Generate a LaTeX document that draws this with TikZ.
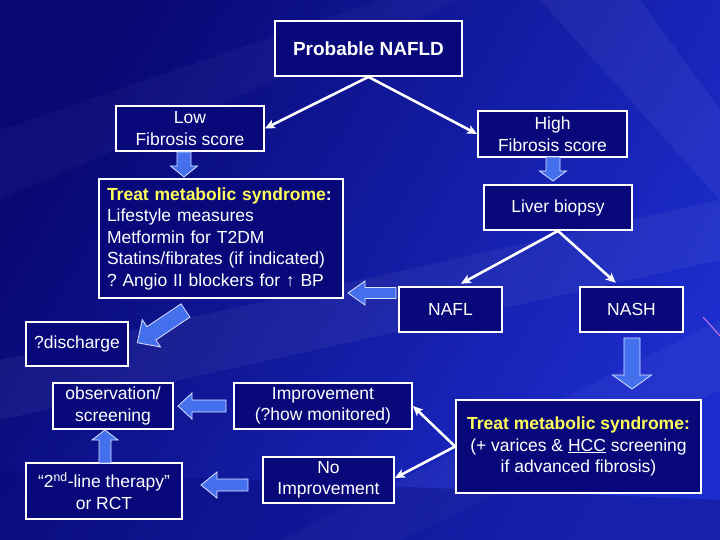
\documentclass[tikz,border=0pt]{standalone}
\usepackage{fontspec}
\setmainfont{Liberation Sans}
\usetikzlibrary{arrows.meta,calc}
\definecolor{bgA}{RGB}{8,8,115}
\definecolor{bgB}{RGB}{28,45,205}
\definecolor{boxfill}{RGB}{8,8,122}
\definecolor{barrow}{RGB}{68,112,238}
\definecolor{ylw}{RGB}{255,255,90}
\definecolor{streak}{RGB}{200,120,230}
\newcommand{\fatarrow}[7]{%
  \begin{scope}[shift={(#1,#2)},rotate=#3]
    \filldraw[fatstyle] (0,-#5) -- ({#4-#7},-#5) -- ({#4-#7},-#6) -- (#4,0)
      -- ({#4-#7},#6) -- ({#4-#7},#5) -- (0,#5) -- cycle;
  \end{scope}}
\tikzset{
  fatstyle/.style={fill=barrow, draw=white!80!barrow, line width=0.8pt, line join=miter},
  flowbox/.style={draw=white, line width=1.8pt, fill=boxfill, text=white, inner sep=0pt,
    align=center, font=\fontsize{17.5}{21.5}\selectfont},
  warrow/.style={draw=white, line width=2.6pt, -{Stealth[length=10pt,width=9pt,inset=2.5pt]}},
}
\frenchspacing
\begin{document}
\begin{tikzpicture}[x=1pt,y=-1pt]
  % background
  \useasboundingbox (0,0) rectangle (720,540);
  \shade[left color=bgA, right color=bgB, shading angle=60] (0,0) rectangle (720,540);
  \fill[white, opacity=0.05] (0,360) -- (720,200) -- (720,260) -- (0,420) -- cycle;
  \fill[white, opacity=0.04] (280,540) -- (720,320) -- (720,390) -- (400,540) -- cycle;
  \fill[white, opacity=0.05] (540,0) -- (640,0) -- (720,110) -- (720,200) -- cycle;
  \fill[white, opacity=0.03] (0,130) -- (380,0) -- (460,0) -- (0,200) -- cycle;
  \fill[bgA, opacity=0.35] (0,470) -- (720,500) -- (720,540) -- (0,540) -- cycle;
  \draw[streak, line width=1pt] (703,317) -- (722,338);

  % boxes
  \node[flowbox, minimum width=187pt, minimum height=55pt, font=\fontsize{19}{22}\selectfont\bfseries]
    (nafld) at (368.5,48.5) {Probable NAFLD};
  \node[flowbox, minimum width=148pt, minimum height=45pt] (low) at (190,128.5) {Low\\Fibrosis score};
  \node[flowbox, minimum width=149pt, minimum height=46pt] (high) at (552.5,134) {High\\Fibrosis score};
  \node[flowbox, minimum width=244pt, minimum height=119pt, text width=228pt, align=left]
    (treat) at (221,238.5) {\textcolor{ylw}{\bfseries Treat metabolic syndrome}\textbf{:}\\
      Lifestyle measures\\Metformin for T2DM\\Statins/fibrates (if indicated)\\? Angio II blockers for ↑ BP};
  \node[flowbox, minimum width=148pt, minimum height=45pt] (biopsy) at (558,207.5) {Liver biopsy};
  \node[flowbox, minimum width=103pt, minimum height=45pt] (nafl) at (450.5,309.5) {NAFL};
  \node[flowbox, minimum width=103pt, minimum height=45pt] (nash) at (631.5,309.5) {NASH};
  \node[flowbox, minimum width=102pt, minimum height=44pt] (disch) at (77,344) {?discharge};
  \node[flowbox, minimum width=120pt, minimum height=46pt] (obs) at (113,406) {observation/\\screening};
  \node[flowbox, minimum width=178pt, minimum height=46pt] (impr) at (323,406) {Improvement\\(?how monitored)};
  \node[flowbox, minimum width=156pt, minimum height=56pt] (second) at (104,491)
    {“2\textsuperscript{nd}-line therapy”\\or RCT};
  \node[flowbox, minimum width=131pt, minimum height=46pt] (noimpr) at (328.5,480) {No\\Improvement};
  \node[flowbox, minimum width=245pt, minimum height=93pt] (treat2) at (578.5,446.5)
    {\textcolor{ylw}{\bfseries Treat metabolic syndrome:}\\(+ varices \& \underline{HCC} screening\\if advanced fibrosis)};

  % white connectors
  \draw[warrow] (nafld.south) -- (low.east);
  \draw[warrow] (nafld.south) -- (high.west);
  \draw[warrow, shorten >=5pt] (biopsy.south) -- ($(nafl.north)+(6,0)$);
  \draw[warrow, shorten >=5pt] (biopsy.south) -- ($(nash.north)+(-12,0)$);
  \draw[warrow] (treat2.west) -- (impr.east);
  \draw[warrow] (treat2.west) -- ($(noimpr.east)+(0,-2)$);

  % blue block arrows: x, y, angle, length, shaft half, head half, head length
  \fatarrow{184}{152}{270}{25}{7}{13.5}{11}
  \fatarrow{553}{157}{270}{24}{7}{13.5}{10}
  \fatarrow{396}{293}{180}{48}{5.5}{12}{17}
  \fatarrow{185.5}{310.5}{213.8}{58}{8}{16.5}{17}
  \fatarrow{226}{406}{180}{48}{6}{13}{14}
  \fatarrow{105}{463}{90}{33}{6}{13}{10}
  \fatarrow{248}{485}{180}{47}{6}{13}{16}
  \fatarrow{632}{338}{270}{51}{8}{19.5}{14}
\end{tikzpicture}
\end{document}
